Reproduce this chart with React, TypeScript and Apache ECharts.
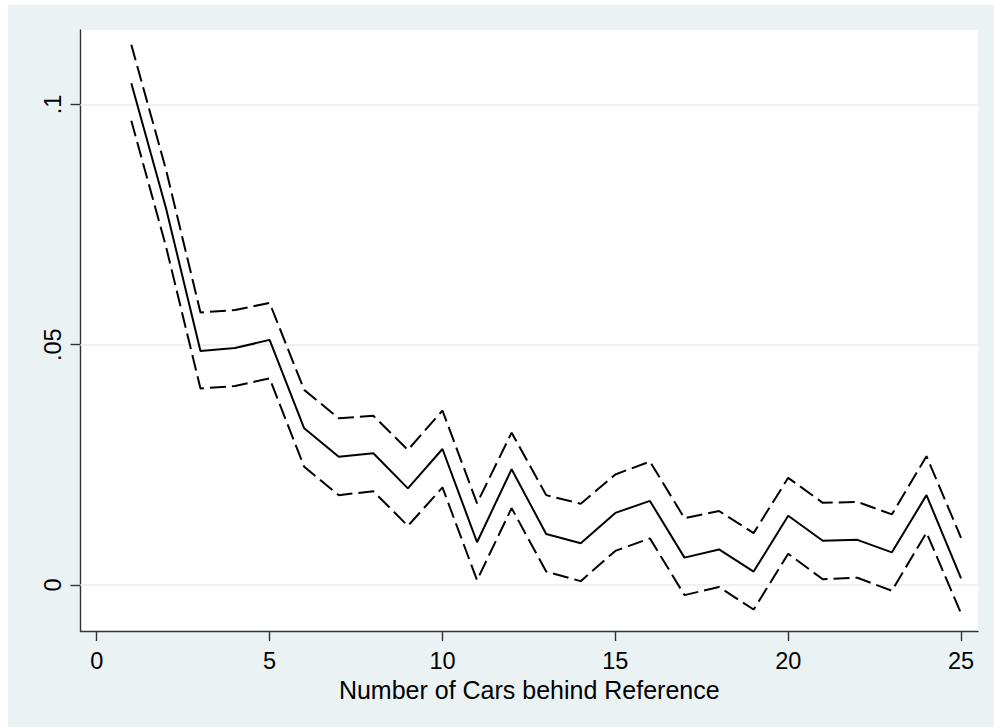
import React, { useEffect, useRef } from "react";
import * as echarts from "echarts";

// Number of cars behind reference (x) and estimates with confidence bounds (y)
const cars = [1, 2, 3, 4, 5, 6, 7, 8, 9, 10, 11, 12, 13, 14, 15, 16, 17, 18, 19, 20, 21, 22, 23, 24, 25];
const estimate = [
  0.1044, 0.0785, 0.0487, 0.0493, 0.051, 0.0326, 0.0267, 0.0274, 0.0201, 0.0283,
  0.0089, 0.0241, 0.0106, 0.0087, 0.015, 0.0175, 0.0057, 0.0074, 0.0028, 0.0144,
  0.0092, 0.0094, 0.0068, 0.0187, 0.0014,
];
const upper = [
  0.1124, 0.0865, 0.0567, 0.0572, 0.0587, 0.0406, 0.0347, 0.0352, 0.0281, 0.0363,
  0.017, 0.0317, 0.0187, 0.0169, 0.023, 0.0257, 0.0139, 0.0154, 0.0108, 0.0223,
  0.0171, 0.0173, 0.0147, 0.0268, 0.0098,
];
const lower = [
  0.0966, 0.0705, 0.0409, 0.0414, 0.043, 0.0246, 0.0187, 0.0195, 0.0123, 0.0203,
  0.001, 0.016, 0.0028, 0.0008, 0.0071, 0.0097, -0.0021, -0.0004, -0.0051, 0.0065,
  0.0012, 0.0015, -0.0012, 0.0109, -0.0059,
];
const xTicks = [0, 5, 10, 15, 20, 25];
const yTicks = [0, 0.05, 0.1];
const xTitle = "Number of Cars behind Reference";

const BG = "#EAF2F3";
const AXIS = "#333333";
const FONT = "'Liberation Sans', Arial, Helvetica, sans-serif";

const pairs = (ys: number[]) => cars.map((x, i) => [x, ys[i]]);
const fmtY = (v: number) => (v === 0 ? "0" : String(Number(v.toFixed(4))).replace(/^0\./, ".").replace(/^-0\./, "-."));

export default function App() {
  const ref = useRef<HTMLDivElement>(null);
  useEffect(() => {
    if (!ref.current) return;
    const chart = echarts.init(ref.current, undefined, { renderer: "svg" });
    chart.setOption({
      animation: false,
      backgroundColor: BG,
      textStyle: { fontFamily: FONT },
      grid: {
        left: 72.5,
        right: 16,
        top: 25,
        bottom: 96,
        show: true,
        backgroundColor: "#ffffff",
        borderWidth: 0,
        containLabel: false,
      },
      xAxis: {
        type: "value",
        min: -0.47,
        max: 25.49,
        name: xTitle,
        nameLocation: "middle",
        nameGap: 29,
        nameTextStyle: { fontFamily: FONT, fontSize: 25, color: "#000" },
        axisLine: { show: true, onZero: false, lineStyle: { color: AXIS, width: 1.4 } },
        axisTick: { show: true, length: 10, inside: false, customValues: xTicks, lineStyle: { color: AXIS, width: 1.4 } },
        axisLabel: {
          show: true,
          customValues: xTicks,
          margin: 18,
          fontFamily: FONT,
          fontSize: 23.5,
          color: "#000",
          formatter: (v: number) => String(v),
        },
        splitLine: { show: false },
      },
      yAxis: {
        type: "value",
        min: -0.00957,
        max: 0.11548,
        axisLine: { show: true, onZero: false, lineStyle: { color: AXIS, width: 1.4 } },
        axisTick: { show: true, length: 10, inside: false, customValues: yTicks, lineStyle: { color: AXIS, width: 1.4 } },
        axisLabel: {
          show: true,
          customValues: yTicks,
          rotate: 90,
          margin: 16,
          fontFamily: FONT,
          fontSize: 23.5,
          color: "#000",
          formatter: (v: number) => fmtY(v),
        },
        splitLine: { show: false },
      },
      series: [
        {
          name: "grid",
          type: "line",
          data: [],
          z: 1,
          silent: true,
          markLine: {
            z: 1,
            silent: true,
            symbol: "none",
            label: { show: false },
            lineStyle: { color: BG, width: 2, type: "solid" },
            data: yTicks.map((v) => ({ yAxis: v })),
          },
        },
        {
          name: "Upper",
          type: "line",
          data: pairs(upper),
          showSymbol: false,
          symbol: "none",
          z: 3,
          lineStyle: { color: "#000", width: 2, type: [16, 6] },
        },
        {
          name: "Estimate",
          type: "line",
          data: pairs(estimate),
          showSymbol: false,
          symbol: "none",
          z: 3,
          lineStyle: { color: "#000", width: 2, type: "solid" },
        },
        {
          name: "Lower",
          type: "line",
          data: pairs(lower),
          showSymbol: false,
          symbol: "none",
          z: 3,
          lineStyle: { color: "#000", width: 2, type: [16, 6] },
        },
      ],
    });
    return () => chart.dispose();
  }, []);
  return (
    <div
      ref={ref}
      style={{ position: "absolute", left: 8, top: 5, width: 986, height: 722 }}
    />
  );
}
